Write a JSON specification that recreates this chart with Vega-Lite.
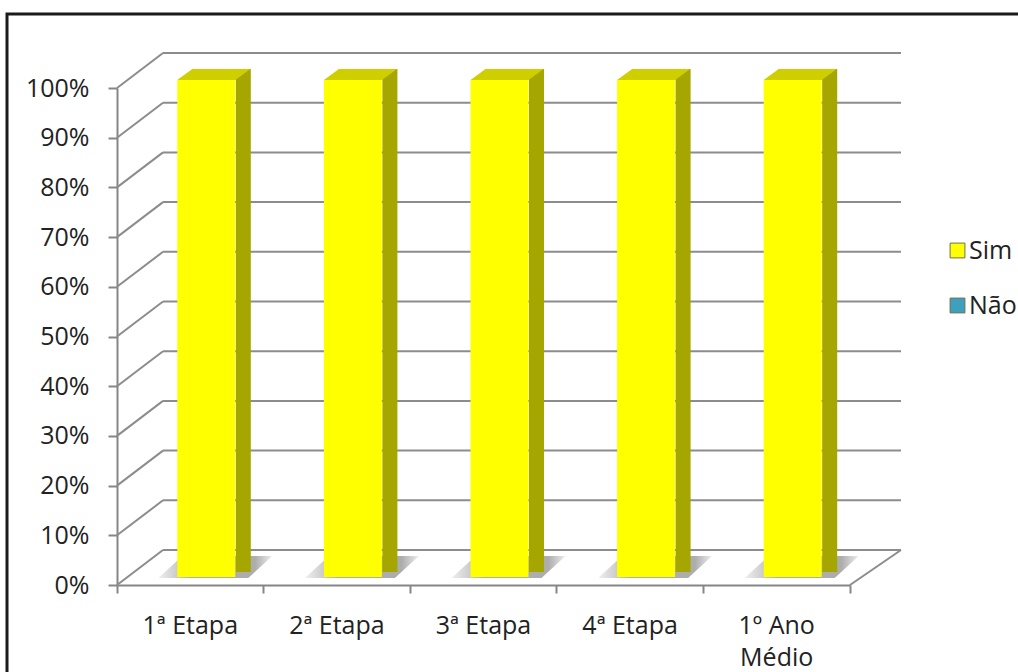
{
  "$schema": "https://vega.github.io/schema/vega-lite/v6.json",
  "width": 1020,
  "height": 672,
  "autosize": {"type": "none"},
  "padding": {"left": 7, "top": 14, "right": -9, "bottom": -14},
  "background": "#ffffff",
  "datasets": {
    "respostas": [
      {"etapa": "1ª Etapa", "resposta": "Sim", "percentual": 1.0},
      {"etapa": "1ª Etapa", "resposta": "Não", "percentual": 0.0},
      {"etapa": "2ª Etapa", "resposta": "Sim", "percentual": 1.0},
      {"etapa": "2ª Etapa", "resposta": "Não", "percentual": 0.0},
      {"etapa": "3ª Etapa", "resposta": "Sim", "percentual": 1.0},
      {"etapa": "3ª Etapa", "resposta": "Não", "percentual": 0.0},
      {"etapa": "4ª Etapa", "resposta": "Sim", "percentual": 1.0},
      {"etapa": "4ª Etapa", "resposta": "Não", "percentual": 0.0},
      {"etapa": "1º Ano Médio", "resposta": "Sim", "percentual": 1.0},
      {"etapa": "1º Ano Médio", "resposta": "Não", "percentual": 0.0}
    ],
    "escala": [
      {"v": 0.0}, {"v": 0.1}, {"v": 0.2}, {"v": 0.3}, {"v": 0.4}, {"v": 0.5},
      {"v": 0.6}, {"v": 0.7}, {"v": 0.8}, {"v": 0.9}, {"v": 1.0}
    ]
  },
  "resolve": {"scale": {"x": "independent"}},
  "layer": [
    {
      "layer": [
        {
          "description": "back wall gridlines",
          "data": {"name": "escala"},
          "mark": {"type": "rule", "color": "#8c8c8c", "strokeWidth": 2, "xOffset": 46, "x2Offset": 51, "yOffset": -35},
          "encoding": {
            "x": {"datum": 0, "type": "quantitative", "scale": {"domain": [0, 1], "range": [110, 843]}, "axis": null},
            "x2": {"datum": 1},
            "y": {
              "field": "v", "type": "quantitative", "title": null,
              "scale": {"domain": [0, 1], "range": [571, 74]},
              "axis": {
                "orient": "left", "offset": -110, "values": [0, 0.1, 0.2, 0.3, 0.4, 0.5, 0.6, 0.7, 0.8, 0.9, 1.0],
                "format": ".0%", "grid": false, "title": null,
                "domainColor": "#868686", "domainWidth": 2,
                "tickColor": "#868686", "tickWidth": 2, "tickSize": 9,
                "labelFont": "Open Sans", "labelFontSize": 25, "labelColor": "#222222", "labelPadding": 19
              }
            }
          }
        },
        {
          "description": "side wall diagonals",
          "data": {"name": "escala"},
          "mark": {"type": "rule", "color": "#8c8c8c", "strokeWidth": 2, "x2Offset": 46, "y2Offset": -35},
          "encoding": {
            "x": {"datum": 0, "type": "quantitative"},
            "x2": {"datum": 0},
            "y": {"field": "v", "type": "quantitative", "title": null},
            "y2": {"field": "v"}
          }
        },
        {
          "description": "floor right edge",
          "data": {"name": "escala"},
          "transform": [{"filter": "datum.v == 0"}],
          "mark": {"type": "rule", "color": "#8c8c8c", "strokeWidth": 2, "x2Offset": 51, "y2Offset": -35},
          "encoding": {
            "x": {"datum": 1, "type": "quantitative"},
            "x2": {"datum": 1},
            "y": {"field": "v", "type": "quantitative", "title": null},
            "y2": {"field": "v"}
          }
        }
      ]
    },
    {
      "data": {"name": "respostas"},
      "layer": [
        {
          "description": "floor shadow of each column",
          "transform": [{"filter": "datum.resposta == 'Sim'"}],
          "mark": {
            "type": "point", "filled": true, "size": 4, "opacity": 0.9, "strokeWidth": 0,
            "shape": "M -48 1 L 42 1 L 66 -21 L -24 -21 Z",
            "color": {
              "gradient": "linear", "x1": 0, "y1": 0, "x2": 1, "y2": 0,
              "stops": [{"offset": 0, "color": "#eeeeee"}, {"offset": 0.3, "color": "#a4a4a4"}, {"offset": 0.85, "color": "#a4a4a4"}, {"offset": 1, "color": "#ececec"}]
            },
            "xOffset": 16, "yOffset": -8
          },
          "encoding": {
            "x": {"field": "etapa", "type": "nominal", "sort": null},
            "y": {"datum": 0, "type": "quantitative"}
          }
        },
        {
          "description": "column side faces",
          "transform": [{"filter": "datum.resposta == 'Sim'"}],
          "mark": {"type": "bar", "color": "#a6a600", "width": 15, "xOffset": 53, "yOffset": -19, "y2Offset": -13},
          "encoding": {
            "x": {"field": "etapa", "type": "nominal", "sort": null},
            "y": {"field": "percentual", "type": "quantitative", "title": null},
            "y2": {"datum": 0}
          }
        },
        {
          "description": "column top faces",
          "transform": [{"filter": "datum.resposta == 'Sim'"}],
          "mark": {
            "type": "point", "filled": true, "size": 4, "opacity": 1, "strokeWidth": 0,
            "shape": "M -29 0 L 29 0 L 44 -11 L -14 -11 Z",
            "color": "#cfcf00", "xOffset": 16, "yOffset": -8
          },
          "encoding": {
            "x": {"field": "etapa", "type": "nominal", "sort": null},
            "y": {"field": "percentual", "type": "quantitative", "title": null}
          }
        },
        {
          "description": "column front faces",
          "mark": {"type": "bar", "width": 58, "xOffset": 16, "yOffset": -8, "y2Offset": -8},
          "encoding": {
            "x": {
              "field": "etapa", "type": "nominal", "sort": null, "title": null,
              "scale": {"range": [110, 843], "paddingInner": 0, "paddingOuter": 0},
              "axis": {
                "orient": "bottom", "offset": -101, "bandPosition": 1, "tickExtra": true,
                "labelAngle": 0, "labelAlign": "center", "grid": false,
                "domainColor": "#868686", "domainWidth": 2,
                "tickColor": "#868686", "tickWidth": 2, "tickSize": 8,
                "labelFont": "Open Sans", "labelFontSize": 25, "labelColor": "#222222",
                "labelPadding": 20, "labelLineHeight": 32, "labelBaseline": "top",
                "labelExpr": "datum.label == '1º Ano Médio' ? ['1º Ano', 'Médio'] : datum.label"
              }
            },
            "y": {"field": "percentual", "type": "quantitative", "stack": "zero", "title": null},
            "color": {
              "field": "resposta", "type": "nominal",
              "scale": {"domain": ["Sim", "Não"], "range": ["#ffff00", "#3f9fbf"]},
              "legend": {
                "orient": "none", "legendX": 938, "legendY": 224, "title": null,
                "symbolType": "square", "symbolSize": 220, "symbolStrokeColor": "#6f6f50", "symbolStrokeWidth": 1,
                "labelFont": "Open Sans", "labelFontSize": 25, "labelColor": "#222222",
                "labelOffset": -1, "rowPadding": 29, "padding": 0
              }
            },
            "order": {"field": "resposta", "sort": "descending"}
          }
        }
      ]
    }
  ],
  "config": {
    "view": {"stroke": "#1b1b1b", "strokeWidth": 3}
  }
}
